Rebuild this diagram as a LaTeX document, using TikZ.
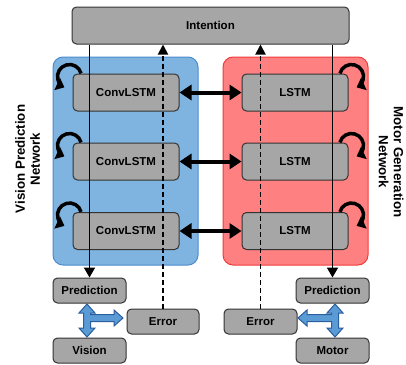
\documentclass[tikz,border=0pt]{standalone}
\usepackage{fontspec}
\setmainfont{Liberation Sans}
\usetikzlibrary{arrows.meta,calc}
\definecolor{boxgray}{HTML}{A6A6A6}
\definecolor{boxline}{HTML}{333333}
\definecolor{bluefill}{HTML}{7FB4E0}
\definecolor{blueline}{HTML}{4A8CD0}
\definecolor{redfill}{HTML}{FF8080}
\definecolor{redline}{HTML}{F03C3C}
\definecolor{tfill}{HTML}{5B9BD5}
\definecolor{tline}{HTML}{2A5F9E}
\tikzset{
  box/.style={draw=boxline, fill=boxgray, rounded corners=4.5pt, line width=1pt,
    inner sep=0pt, font=\fontsize{11.5}{13}\selectfont\bfseries},
  panel/.style={rounded corners=10pt, line width=1pt},
  sidelabel/.style={align=center, font=\fontsize{13.3}{15}\selectfont\bfseries, inner sep=0pt},
  flow/.style={line width=1.8pt, -{Triangle[length=10pt,width=11pt]}},
  errflow/.style={line width=1.8pt, dash pattern=on 5pt off 3pt, -{Triangle[length=10pt,width=10pt]}},
  biarrow/.style={line width=4pt, {Triangle[length=12pt,width=15pt]}-{Triangle[length=12pt,width=15pt]}},
  selfloop/.style={line width=3.5pt, -{Triangle[length=8pt,width=13pt]}},
  tarrow/.style={fill=tfill, draw=tline, line width=1pt, line join=miter}
}
\begin{document}
\begin{tikzpicture}[x=1pt, y=-1pt]
\useasboundingbox (0,0) rectangle (406,364);
% panels
\fill[panel, fill=bluefill, draw=blueline] (53,57) rectangle (198,265);
\fill[panel, fill=redfill, draw=redline] (223,57) rectangle (368,265);
% top box
\node[box, minimum width=277pt, minimum height=37pt] (int) at (210.5,25.5) {Intention};
% recurrent layers
\foreach \i/\y in {1/92.5, 2/161.5, 3/231} {
  \node[box, minimum width=106pt, minimum height=37pt] (c\i) at (126,\y) {ConvLSTM};
  \node[box, minimum width=106pt, minimum height=37pt] (l\i) at (295,\y) {LSTM};
}
% bottom boxes
\node[box, minimum width=73pt, minimum height=25pt] (predL) at (89.5,290.5) {Prediction};
\node[box, minimum width=72pt, minimum height=25pt] (errL) at (163,321.5) {Error};
\node[box, minimum width=73pt, minimum height=25pt] (vis) at (89.5,350.5) {Vision};
\node[box, minimum width=73pt, minimum height=25pt] (predR) at (332.5,290.5) {Prediction};
\node[box, minimum width=73pt, minimum height=25pt] (errR) at (260.5,321.5) {Error};
\node[box, minimum width=73pt, minimum height=25pt] (mot) at (332.5,350.5) {Motor};
% side labels
\node[sidelabel, rotate=90] (vlab) at (27.5,159) {Vision Prediction\\Network};
\node[sidelabel, rotate=-90] (mlab) at (391,162) {Motor Generation\\Network};
% lateral connections
\foreach \i in {1,2,3} {
  \draw[biarrow] (c\i.east) -- (l\i.west);
}
% self loops
\foreach \i in {1,2,3} {
  \draw[selfloop] ($(c\i.north west)+(-3,3)$) ++(-15:12) arc[start angle=-15, end angle=-245, radius=12];
  \draw[selfloop] ($(l\i.north east)+(3,3)$) ++(-165:12) arc[start angle=-165, end angle=65, radius=12];
}
% top-down prediction paths
\draw[flow] (int.south -| predL.north) -- (predL.north);
\draw[flow] (int.south -| predR.north) -- (predR.north);
% error paths
\draw[errflow] (errL.north) -- (errL.north |- int.south);
\draw[errflow] (errR.north) -- (errR.north |- int.south);
% blue T arrows
\begin{scope}[shift={(87,318)}]
\draw[tarrow] (0,-14) -- (8,-5) -- (3.5,-5) -- (3.5,-3.5) -- (27,-3.5) -- (27,-8) -- (36,0) -- (27,8) -- (27,3.5) -- (3.5,3.5) -- (3.5,10) -- (8,10) -- (0,19) -- (-8,10) -- (-3.5,10) -- (-3.5,-5) -- (-8,-5) -- cycle;
\end{scope}
\begin{scope}[shift={(335,318)}, xscale=-1]
\draw[tarrow] (0,-14) -- (8,-5) -- (3.5,-5) -- (3.5,-3.5) -- (28,-3.5) -- (28,-8) -- (37,0) -- (28,8) -- (28,3.5) -- (3.5,3.5) -- (3.5,10) -- (8,10) -- (0,19) -- (-8,10) -- (-3.5,10) -- (-3.5,-5) -- (-8,-5) -- cycle;
\end{scope}
\end{tikzpicture}
\end{document}
